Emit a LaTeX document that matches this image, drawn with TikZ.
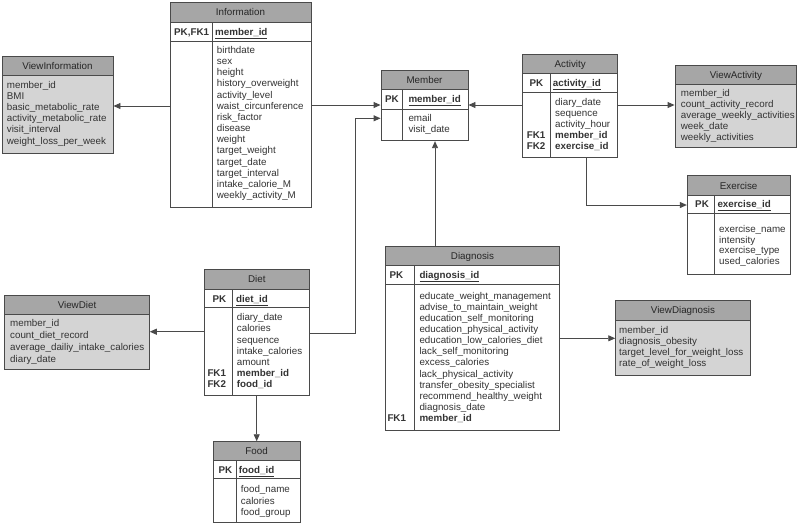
\documentclass[tikz,border=0pt]{standalone}
\usepackage{fontspec}
\setmainfont{Liberation Sans}
\usetikzlibrary{arrows.meta,fit}
\definecolor{hdr}{HTML}{A6A6A6}
\definecolor{vbody}{HTML}{D4D4D4}
\definecolor{edge}{HTML}{4A4A4A}
\definecolor{ink}{HTML}{333333}
\definecolor{ttlink}{HTML}{262626}
\newcommand{\erlines}[5]{\foreach \t [count=\i from 0] in {#5} {\node[txt] (#1-\i) at (#2,{#3+\i*#4}) {\t};}}
\newcommand{\pkul}[1]{\underline{\smash{#1}\vphantom{\_}}}
\newcommand{\entity}[9]{%
  \node[ebox, fit={(#2,#3) (#4,#5)}] (#1) {};
  \draw[hdrbox] (#2,#3) rectangle (#4,#6);
  \draw[edgeline] (#2,#7) -- (#4,#7) (#8,#6) -- (#8,#5);
  \node[ttl] (#1-t) at ({(#2+#4)/2},{(#3+#6)/2+3.5}) {\color{ttlink}#9};}
\newcommand{\erview}[7]{%
  \node[vbox, fit={(#2,#3) (#4,#5)}] (#1) {};
  \draw[hdrbox] (#2,#3) rectangle (#4,#6);
  \node[ttl] (#1-t) at ({(#2+#4)/2},{(#3+#6)/2+3.5}) {\color{ttlink}#7};}
\begin{document}
\begin{tikzpicture}[x=1pt,y=-1pt,
  font=\fontsize{9.8}{11}\selectfont,
  txt/.style={anchor=base west, inner sep=0pt, text=ink},
  key/.style={anchor=base west, inner sep=0pt, text=ink, font=\fontsize{9.8}{11}\selectfont\bfseries},
  ttl/.style={anchor=base, inner sep=0pt, text=ttlink},
  ebox/.style={draw=edge, fill=white, inner sep=0pt, line width=0.9pt},
  vbox/.style={draw=edge, fill=vbody, inner sep=0pt, line width=0.9pt},
  hdrbox/.style={draw=edge, fill=hdr, line width=0.9pt},
  edgeline/.style={draw=edge, line width=0.9pt},
  arr/.style={draw=edge, line width=0.9pt, -{Triangle[length=7pt,width=6pt]}}]
\useasboundingbox (0,0) rectangle (799,523);

% ViewInformation
\erview{vinfo}{2}{56}{113}{153}{75}{ViewInformation}
\erlines{vinfo-l}{6.7}{88.5}{11.1}{member\_id,BMI,basic\_metabolic\_rate,activity\_metabolic\_rate,visit\_interval,weight\_loss\_per\_week}

% Information
\entity{info}{170}{2}{311}{207}{22}{41}{212}{Information}
\node[key] (info-pk) at (174,35.2) {PK,FK1};
\node[key] (info-id) at (215,35.2) {\pkul{member\_id}};
\erlines{info-l}{216.7}{53.5}{11.15}{birthdate,sex,height,history\_overweight,activity\_level,waist\_circunference,risk\_factor,disease,weight,target\_weight,target\_date,target\_interval,intake\_calorie\_M,weekly\_activity\_M}

% Member
\entity{member}{381}{70.7}{468}{140.7}{89}{109}{402.7}{Member}
\node[key] (member-pk) at (385,102.8) {PK};
\node[key] (member-id) at (408.3,102.8) {\pkul{member\_id}};
\erlines{member-l}{408.3}{121.2}{11.3}{email,visit\_date}

% Activity
\entity{act}{522.7}{54.3}{617.7}{157.3}{73.3}{92.7}{550}{Activity}
\node[key] (act-pk) at (529.3,86.2) {PK};
\node[key] (act-id) at (552.7,86.2) {\pkul{activity\_id}};
\erlines{act-l}{555}{105.8}{10.95}{diary\_date,sequence,activity\_hour,{\textbf{member\_id}},{\textbf{exercise\_id}}}
\node[key] (act-fk1) at (526.7,138.65) {FK1};
\node[key] (act-fk2) at (526.7,149.6) {FK2};

% ViewActivity
\erview{vact}{675}{65}{796.7}{147.7}{84}{ViewActivity}
\erlines{vact-l}{680.7}{96.2}{11}{member\_id,count\_activity\_record,average\_weekly\_activities,week\_date,weekly\_activities}

% Exercise
\entity{exer}{687.3}{175.7}{790}{274}{195.7}{213.3}{714.3}{Exercise}
\node[key] (exer-pk) at (695,207.8) {PK};
\node[key] (exer-id) at (717.3,207.8) {\pkul{exercise\_id}};
\erlines{exer-l}{719}{232.5}{10.7}{exercise\_name,intensity,exercise\_type,used\_calories}

% ViewDiet
\erview{vdiet}{4.7}{295}{149.3}{369}{314.3}{ViewDiet}
\erlines{vdiet-l}{10}{326.8}{11.8}{member\_id,count\_diet\_record,average\_dailiy\_intake\_calories,diary\_date}

% Diet
\entity{diet}{204.3}{269.3}{309.3}{395}{289.3}{307.7}{232.3}{Diet}
\node[key] (diet-pk) at (212.3,302.8) {PK};
\node[key] (diet-id) at (236,302.8) {\pkul{diet\_id}};
\erlines{diet-l}{236.7}{320.8}{11.1}{diary\_date,calories,sequence,intake\_calories,amount,{\textbf{member\_id}},{\textbf{food\_id}}}
\node[key] (diet-fk1) at (207.3,376.3) {FK1};
\node[key] (diet-fk2) at (207.3,387.4) {FK2};

% Food
\entity{food}{213.3}{441.7}{300}{522}{460}{478.3}{236.7}{Food}
\node[key] (food-pk) at (218.3,473.5) {PK};
\node[key] (food-id) at (238.7,473.5) {\pkul{food\_id}};
\erlines{food-l}{240.7}{492.8}{11.2}{food\_name,calories,food\_group}

% Diagnosis
\entity{diag}{385.7}{246.7}{559.3}{430}{265.7}{284.3}{414.3}{Diagnosis}
\node[key] (diag-pk) at (389.3,278.5) {PK};
\node[key] (diag-id) at (419.3,278.5) {\pkul{diagnosis\_id}};
\erlines{diag-l}{419.3}{299.2}{11.12}{educate\_weight\_management,advise\_to\_maintain\_weight,education\_self\_monitoring,education\_physical\_activity,education\_low\_calories\_diet,lack\_self\_monitoring,excess\_calories,lack\_physical\_activity,transfer\_obesity\_specialist,recommend\_healthy\_weight,diagnosis\_date,{\textbf{member\_id}}}
\node[key] (diag-fk1) at (387.3,421.5) {FK1};

% ViewDiagnosis
\erview{vdiag}{615.7}{300.7}{750.3}{375.7}{320}{ViewDiagnosis}
\erlines{vdiag-l}{619}{333.5}{11.1}{member\_id,diagnosis\_obesity,target\_level\_for\_weight\_loss,rate\_of\_weight\_loss}

% connectors
\draw[arr] (info.west |- 0,106) -- (vinfo.east |- 0,106);
\draw[arr] (info.east |- 0,105) -- (member.west |- 0,105);
\draw[arr] (diet.east |- 0,333) -- (355,333) -- (355,118.3) -- (member.west |- 0,118.3);
\draw[arr] (act.west |- 0,105) -- (member.east |- 0,105);
\draw[arr] (act.east |- 0,105) -- (vact.west |- 0,105);
\draw[arr] (act.south -| 586,0) -- (586,205) -- (exer.west |- 0,205);
\draw[arr] (diet.west |- 0,331.7) -- (vdiet.east |- 0,331.7);
\draw[arr] (diet.south -| 256.7,0) -- (food.north -| 256.7,0);
\draw[arr] (diag.north -| 435,0) -- (member.south -| 435,0);
\draw[arr] (diag.east |- 0,338.3) -- (vdiag.west |- 0,338.3);
\end{tikzpicture}
\end{document}
